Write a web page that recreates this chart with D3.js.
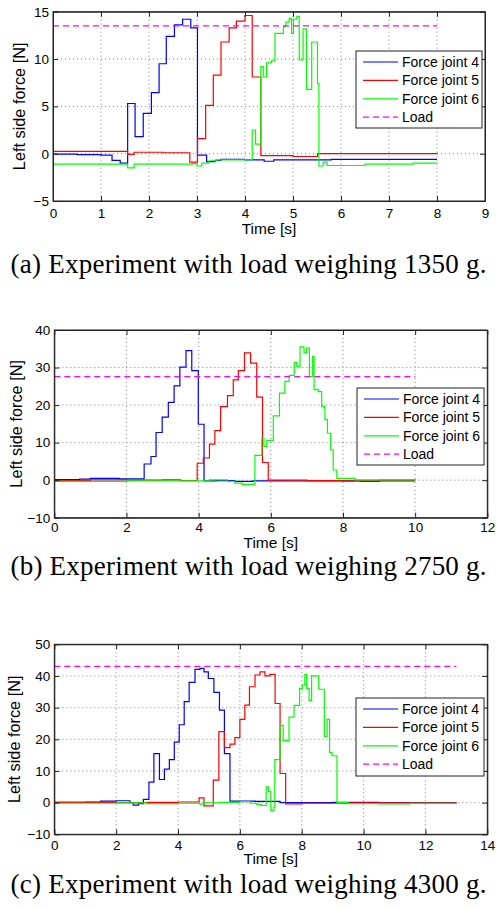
<html>
<head>
<meta charset="utf-8">
<script src="https://d3js.org/d3.v7.min.js"></script>
<style>
body { margin: 0; background: white; }
text { font-family: "Liberation Sans", Arial, sans-serif; fill: #000; }
.caption { font-family: "Liberation Serif", "Times New Roman", serif; }
</style>
</head>
<body>
<script>
// series are [time s, force N] pairs, drawn as steps
var seriesNames = ["Force joint 4", "Force joint 5", "Force joint 6", "Load"];
var seriesColors = ["#0000ff", "#ff0000", "#00ff00", "#ff00ff"];

// (a) 1350 g
var aJoint4 = [[0,-0.05],[0.5,-0.1],[1.0,-0.15],[1.23,-0.7],[1.4,-1.0],[1.555,5.3],[1.71,1.8],[1.88,4.25],[2.05,6.45],[2.21,9.5],[2.36,12.4],[2.53,13.6],[2.70,14.2],[2.87,13.3],[3.01,-0.15],[3.2,-0.85],[3.375,-0.7],[3.5,-0.6],[4.0,-0.65],[4.4,-0.8],[4.6,-0.65],[5.8,-0.6],[8.0,-0.6]];
var aJoint5 = [[0,0.25],[1.555,-0.07],[1.69,0.15],[2.3,0.1],[2.85,-0.9],[3.01,1.6],[3.18,5.1],[3.34,8.3],[3.5,11.8],[3.67,13.3],[3.82,14.0],[4.0,14.6],[4.15,8.1],[4.33,-0.2],[5.0,-0.3],[5.51,0.0],[8.0,0.05]];
var aJoint6 = [[0,-1.1],[1.555,-1.5],[1.69,-1.1],[2.9,-1.05],[3.0,-1.3],[3.1,-1.0],[3.25,-0.75],[3.4,-0.65],[4.15,2.5],[4.22,1.0],[4.33,9.2],[4.38,8.1],[4.45,9.6],[4.55,9.8],[4.625,12.7],[4.80,13.4],[4.85,13.9],[4.92,14.3],[4.97,12.7],[5.01,14.2],[5.08,14.5],[5.13,9.9],[5.21,13.2],[5.28,6.8],[5.39,11.8],[5.51,7.4],[5.54,-1.3],[5.63,-0.9],[5.71,-1.25],[6.5,-1.1],[7.5,-1.0],[8.0,-1.0]];
var aLoad = [[0,13.5],[8,13.5]];

// (b) 2750 g
var bJoint4 = [[0,0.15],[0.7,0.3],[1.0,0.45],[1.8,0.35],[2.49,4.3],[2.68,6.3],[2.82,12.7],[2.99,16.8],[3.16,20.7],[3.32,25.1],[3.48,30.1],[3.65,34.5],[3.81,29.2],[3.99,14.9],[4.15,-0.2],[4.5,-0.1],[5.0,-0.3],[5.5,-0.2],[7,-0.2],[8.5,-0.3],[9,-0.2],[10,-0.2]];
var bJoint5 = [[0,-0.1],[1.0,0.1],[2.0,0.0],[3.0,0.1],[3.5,-0.1],[3.96,4.5],[4.13,5.9],[4.30,9.6],[4.45,13.2],[4.61,19.6],[4.8,22.5],[4.96,26.7],[5.1,29.2],[5.27,33.9],[5.44,31.2],[5.61,22.1],[5.77,4.7],[5.93,0.0],[7.0,-0.1],[8.0,-0.2],[9,0],[10,0]];
var bJoint6 = [[0,-0.3],[2.0,-0.2],[3.5,-0.2],[4.3,0.1],[4.8,-0.3],[5.0,-0.8],[5.2,-1.1],[5.56,6.6],[5.75,11.2],[5.81,9.0],[5.89,10.6],[6.07,17.1],[6.24,23.2],[6.39,26.3],[6.51,27.9],[6.65,31.4],[6.72,30.3],[6.81,35.5],[6.92,33.9],[6.99,35.2],[7.07,27.6],[7.16,33.0],[7.2,24.1],[7.32,23.6],[7.41,19.6],[7.5,16.1],[7.57,12.5],[7.66,8.1],[7.73,2.7],[7.83,0.5],[8.33,0.1],[10,0.0]];
var bLoad = [[0,27.6],[10,27.6]];

// (c) 4300 g
var cJoint4 = [[0,0.1],[1.0,0.2],[1.5,0.5],[2.0,0.6],[2.45,0.0],[2.55,-0.8],[2.72,-0.3],[2.88,1.0],[3.06,6.5],[3.22,15.5],[3.4,7.3],[3.56,10.6],[3.72,13.6],[3.88,19.1],[4.04,24.6],[4.2,31.9],[4.36,38.0],[4.55,42.1],[4.71,42.4],[4.84,41.3],[4.98,39.2],[5.16,34.8],[5.34,29.2],[5.5,15.5],[5.68,0.5],[6.5,0.4],[7.3,0.0],[9,0.1],[10.5,0],[13,0]];
var cJoint5 = [[0,0.1],[2.0,0.0],[3.0,0.1],[4.0,0.2],[4.68,1.5],[4.84,-1.0],[5.14,7.1],[5.32,22.4],[5.5,17.4],[5.68,18.5],[5.84,20.5],[6.0,26.3],[6.16,30.8],[6.31,36.6],[6.49,40.3],[6.65,41.3],[6.81,40.0],[6.97,40.5],[7.14,31.3],[7.30,9.2],[7.48,-0.4],[8.0,-0.2],[9.5,-0.1],[13,0]];
var cJoint6 = [[0,-0.2],[2.0,-0.1],[3.0,-0.3],[4.0,-0.2],[4.7,-0.5],[4.85,-0.1],[5.36,0.1],[6.0,0.3],[6.33,-0.2],[6.55,-0.6],[6.7,-0.9],[6.85,5.0],[6.93,3.5],[7.0,-2.5],[7.1,-1.4],[7.13,13.6],[7.3,24.4],[7.4,19.6],[7.59,27.0],[7.75,30.7],[7.93,36.1],[8.02,37.1],[8.1,40.5],[8.16,36.1],[8.24,32.2],[8.32,40.0],[8.55,35.8],[8.73,20.8],[8.82,26.3],[8.9,15.8],[8.98,14.8],[9.14,0.0],[9.5,-0.3],[10.5,-0.4],[11.5,-0.2],[13,-0.2]];
var cLoad = [[0,43],[13,43]];

var aXTicks = [0,1,2,3,4,5,6,7,8,9];
var aYTicks = [-5,0,5,10,15];
var bXTicks = [0,2,4,6,8,10,12];
var bYTicks = [-10,0,10,20,30,40];
var cXTicks = [0,2,4,6,8,10,12,14];
var cYTicks = [-10,0,10,20,30,40,50];

var captions = ["(a) Experiment with load weighing 1350 g.",
                "(b) Experiment with load weighing 2750 g.",
                "(c) Experiment with load weighing 4300 g."];

var panels = [
  {series: [aJoint4, aJoint5, aJoint6, aLoad], xTicks: aXTicks, yTicks: aYTicks,
   left: 53, right: 485, top: 11.7, bottom: 201, ylabX: 19, xPad: 7, xlabY: 234, capY: 273,
   legend: {x: 356, y: 51, w: 126, h: 77}},
  {series: [bJoint4, bJoint5, bJoint6, bLoad], xTicks: bXTicks, yTicks: bYTicks,
   left: 54.3, right: 487.3, top: 330, bottom: 517.7, ylabX: 16, xPad: 5, xlabY: 548, capY: 575,
   legend: {x: 357, y: 388, w: 127, h: 77}},
  {series: [cJoint4, cJoint5, cJoint6, cLoad], xTicks: cXTicks, yTicks: cYTicks,
   left: 54.3, right: 487.3, top: 644.3, bottom: 834.3, ylabX: 14, xPad: 6, xlabY: 864, capY: 893,
   legend: {x: 356, y: 698, w: 128, h: 78}}
];

var svg = d3.select("body")
    .append("svg")
    .attr("width", 497)
    .attr("height", 908);

var drawPanel = function(p, idx)
{
    var xScale = d3.scaleLinear()
        .domain(d3.extent(p.xTicks))
        .range([p.left, p.right]);
    var yScale = d3.scaleLinear()
        .domain(d3.extent(p.yTicks))
        .range([p.bottom, p.top]);

    var g = svg.append("g");

    // dotted grid
    g.selectAll(".gx")
        .data(p.xTicks.slice(1, -1))
        .enter()
        .append("line")
        .attr("x1", function(d) { return xScale(d); })
        .attr("x2", function(d) { return xScale(d); })
        .attr("y1", p.top)
        .attr("y2", p.bottom)
        .attr("stroke", "#666")
        .attr("stroke-width", 0.8)
        .attr("stroke-dasharray", "1,3");
    g.selectAll(".gy")
        .data(p.yTicks.slice(1, -1))
        .enter()
        .append("line")
        .attr("y1", function(d) { return yScale(d); })
        .attr("y2", function(d) { return yScale(d); })
        .attr("x1", p.left)
        .attr("x2", p.right)
        .attr("stroke", "#666")
        .attr("stroke-width", 0.8)
        .attr("stroke-dasharray", "1,3");

    var line = d3.line()
        .x(function(d) { return xScale(d[0]); })
        .y(function(d) { return yScale(d[1]); })
        .curve(d3.curveStepAfter);

    p.series.forEach(function(s, i)
    {
        g.append("path")
            .datum(s)
            .attr("d", line)
            .attr("fill", "none")
            .attr("stroke", seriesColors[i])
            .attr("stroke-width", 1.2)
            .attr("stroke-dasharray", i == 3 ? "6,4" : null);
    });

    // axes, ticks inward on all sides
    var axisColor = "#222";
    var bottomAxis = d3.axisBottom(xScale).tickValues(p.xTicks).tickSizeInner(-5).tickSizeOuter(0).tickPadding(p.xPad);
    var topAxis = d3.axisTop(xScale).tickValues(p.xTicks).tickSizeInner(-5).tickSizeOuter(0).tickFormat("");
    var leftAxis = d3.axisLeft(yScale).tickValues(p.yTicks).tickSizeInner(-5).tickSizeOuter(0).tickPadding(4);
    var rightAxis = d3.axisRight(yScale).tickValues(p.yTicks).tickSizeInner(-5).tickSizeOuter(0).tickFormat("");

    var axes = [
        g.append("g").attr("transform", "translate(0," + p.bottom + ")").call(bottomAxis),
        g.append("g").attr("transform", "translate(0," + p.top + ")").call(topAxis),
        g.append("g").attr("transform", "translate(" + p.left + ",0)").call(leftAxis),
        g.append("g").attr("transform", "translate(" + p.right + ",0)").call(rightAxis)
    ];
    axes.forEach(function(a)
    {
        a.select(".domain").attr("stroke", axisColor);
        a.selectAll("line").attr("stroke", axisColor);
        a.selectAll("text")
            .style("font-family", "'Liberation Sans', Arial, sans-serif")
            .style("font-size", "13.5px")
            .attr("fill", "#000");
    });

    // frame
    g.append("rect")
        .attr("x", p.left)
        .attr("y", p.top)
        .attr("width", p.right - p.left)
        .attr("height", p.bottom - p.top)
        .attr("fill", "none")
        .attr("stroke", axisColor);

    g.append("text")
        .text("Time [s]")
        .attr("x", (p.left + p.right) / 2)
        .attr("y", p.xlabY)
        .attr("text-anchor", "middle")
        .style("font-size", "15.5px");

    g.append("text")
        .text("Left side force [N]")
        .attr("transform", "translate(" + p.ylabX + "," + (p.top + p.bottom) / 2 + ") rotate(-90)")
        .attr("dy", "0.35em")
        .attr("text-anchor", "middle")
        .style("font-size", "16.3px");

    // legend
    var L = p.legend;
    var leg = g.append("g");
    leg.append("rect")
        .attr("x", L.x)
        .attr("y", L.y)
        .attr("width", L.w)
        .attr("height", L.h)
        .attr("fill", "white")
        .attr("stroke", "#222");
    seriesNames.forEach(function(name, i)
    {
        var yy = L.y + 11 + i * 18.4;
        leg.append("line")
            .attr("x1", L.x + 7)
            .attr("x2", L.x + 42)
            .attr("y1", yy)
            .attr("y2", yy)
            .attr("stroke", seriesColors[i])
            .attr("stroke-width", 1.2)
            .attr("stroke-dasharray", i == 3 ? "6,4" : null);
        leg.append("text")
            .text(name)
            .attr("x", L.x + 46)
            .attr("y", yy)
            .attr("dy", "0.35em")
            .style("font-size", "14px");
    });

    svg.append("text")
        .classed("caption", true)
        .text(captions[idx])
        .attr("x", 248.5)
        .attr("y", p.capY)
        .attr("text-anchor", "middle")
        .attr("textLength", 476)
        .attr("lengthAdjust", "spacing")
        .style("font-size", "27px");
}

panels.forEach(drawPanel);
</script>
</body>
</html>
